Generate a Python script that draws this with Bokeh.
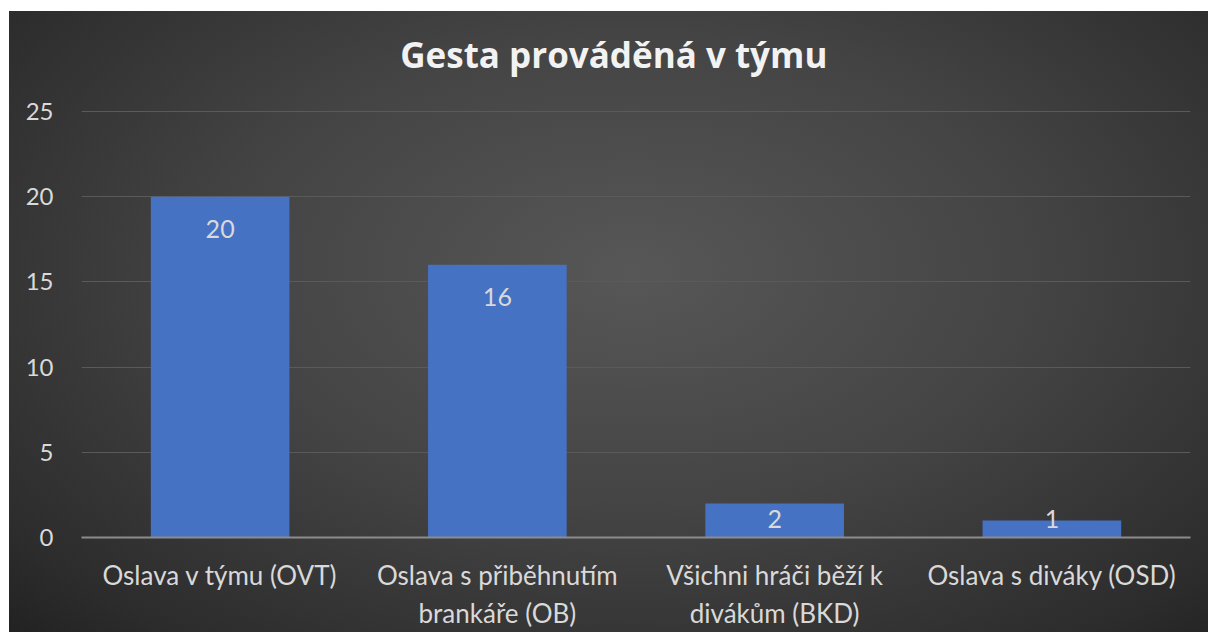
from bokeh.plotting import figure
from bokeh.models import Range1d, ColumnDataSource, FactorRange, Label
from bokeh.core.properties import value
from bokeh.embed import file_html
from bokeh.resources import INLINE

title_text = "Gesta prováděná v týmu"
categories = [
    "Oslava v týmu (OVT)",
    "Oslava s přiběhnutím\nbrankáře (OB)",
    "Všichni hráči běží k\ndivákům (BKD)",
    "Oslava s diváky (OSD)",
]
counts = [20, 16, 2, 1]
y_ticks = [0, 5, 10, 15, 20, 25]

FONT = "Lato"
TXT = "#d9d9d9"

label_y = [max(v, 2.95) for v in counts]
src = ColumnDataSource(dict(cat=categories, val=counts, ly=label_y,
                            txt=[str(v) for v in counts]))

# frame extends to the top of the chart so the title can sit inside it
p = figure(x_range=FactorRange(*categories), y_range=Range1d(0, 30.87),
           width=1199, height=621, output_backend="svg", toolbar_location=None,
           margin=(11, 0, 0, 9),
           min_border_left=72, min_border_right=18, min_border_top=0,
           min_border_bottom=95)

p.styles = {"background": "radial-gradient(ellipse 75% 85% at 52% 42%, #575757 0%, #444444 45%, #2c2c2c 85%, #202020 100%)"}
p.background_fill_alpha = 0
p.border_fill_alpha = 0
p.outline_line_color = None

p.vbar(x="cat", top="val", width=0.5, bottom=0, source=src,
       fill_color="#4672c4", line_color=None)
p.text(x="cat", y="ly", text="txt", source=src, text_align="center",
       text_baseline="middle", y_offset=32, text_color=TXT,
       text_font=value(FONT), text_font_size="25px")

p.add_layout(Label(x=1.92, y=28.35, text=title_text, text_align="center",
                   text_baseline="alphabetic", text_font="Open Sans",
                   text_font_size="35px", text_font_style="bold",
                   text_color="#f2f2f2"))

p.xgrid.grid_line_color = None
p.ygrid.grid_line_color = "#5a5a5a"
p.ygrid.grid_line_width = 1

p.yaxis.ticker = y_ticks
p.yaxis.axis_line_color = None
p.yaxis.major_tick_line_color = None
p.yaxis.minor_tick_line_color = None
p.yaxis.major_label_text_color = TXT
p.yaxis.major_label_text_font = FONT
p.yaxis.major_label_text_font_size = "24px"
p.yaxis.major_label_standoff = 22

p.xaxis.axis_line_color = "#8c8c8c"
p.xaxis.axis_line_width = 2
p.xaxis.major_tick_line_color = None
p.xaxis.minor_tick_line_color = None
p.xaxis.major_label_text_color = TXT
p.xaxis.major_label_text_font = FONT
p.xaxis.major_label_text_font_size = "26px"
p.xaxis.major_label_standoff = 15

open("out.html", "w").write(file_html(p, INLINE))
